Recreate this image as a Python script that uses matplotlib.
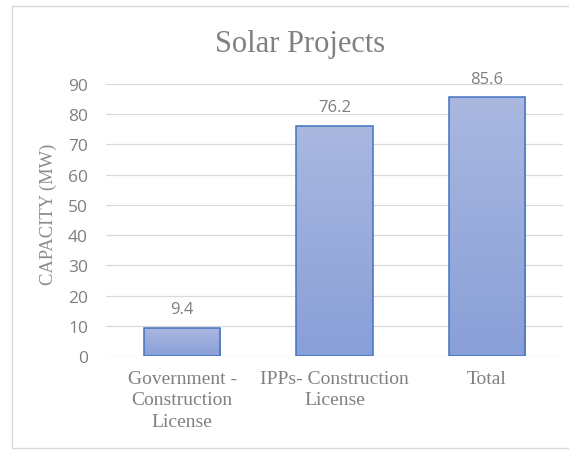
import numpy as np
import matplotlib.pyplot as plt
from matplotlib.patches import Rectangle
from matplotlib.colors import LinearSegmentedColormap

categories = ['Government -\nConstruction\nLicense', 'IPPs- Construction\nLicense', 'Total']
capacity = [9.4, 76.2, 85.6]
yticks = [0, 10, 20, 30, 40, 50, 60, 70, 80, 90]

fig = plt.figure(figsize=(5.69, 4.52), dpi=100)
ax = fig.add_axes([106 / 569, 95 / 452, 457 / 569, 272 / 452])

# outer chart border (right side runs off the image)
fig.patches.append(Rectangle((12 / 569, 3 / 452), 565 / 569, 442 / 452,
                             transform=fig.transFigure, fill=False,
                             edgecolor='#d9d9d9', linewidth=1))

x = np.arange(len(capacity))
bars = ax.bar(x, capacity, width=0.5, color='none', edgecolor='#4472c4',
              linewidth=1.1, zorder=3)

# vertical gradient fill for each bar
grad = np.linspace(0, 1, 256).reshape(-1, 1)
cmap = LinearSegmentedColormap.from_list('g', ['#889fd7', '#aab8e0'])
for b in bars:
    x0, y0 = b.get_x(), b.get_y()
    w, h = b.get_width(), b.get_height()
    im = ax.imshow(grad, cmap=cmap, aspect='auto', origin='lower',
                   extent=[x0, x0 + w, y0, y0 + h], zorder=2)
    im.set_clip_path(b)

for xi, v in zip(x, capacity):
    ax.text(xi, v + 6.2, f'{v}', ha='center', va='center', fontsize=12,
            color='#7f7f7f', family='Open Sans')

ax.set_xlim(-0.5, 2.5)
ax.set_ylim(0, 90)
ax.set_yticks(yticks)
ax.set_yticklabels([str(t) for t in yticks], family='Open Sans', fontsize=12.5,
                   color='#7f7f7f')
ax.set_xticks(x)
ax.set_xticklabels(categories, family='Liberation Serif', fontsize=14,
                   color='#808080', linespacing=1.35)
ax.tick_params(axis='y', length=0, pad=13)
ax.tick_params(axis='x', length=0, pad=10)
ax.grid(axis='y', color='#d9d9d9', linewidth=0.9, zorder=0)
for s in ax.spines.values():
    s.set_visible(False)

ax.set_ylabel('CAPACITY (MW)', family='Liberation Serif', fontsize=13.3,
              color='#8c8c8c')
ax.yaxis.set_label_coords(57 / 569, 1 - 214 / 452, transform=fig.transFigure)

fig.text(300 / 569, 1 - 52 / 452, 'Solar Projects', ha='center', va='baseline',
         family='Liberation Serif', fontsize=22, color='#808080')

fig.savefig('out.png', dpi=100)
